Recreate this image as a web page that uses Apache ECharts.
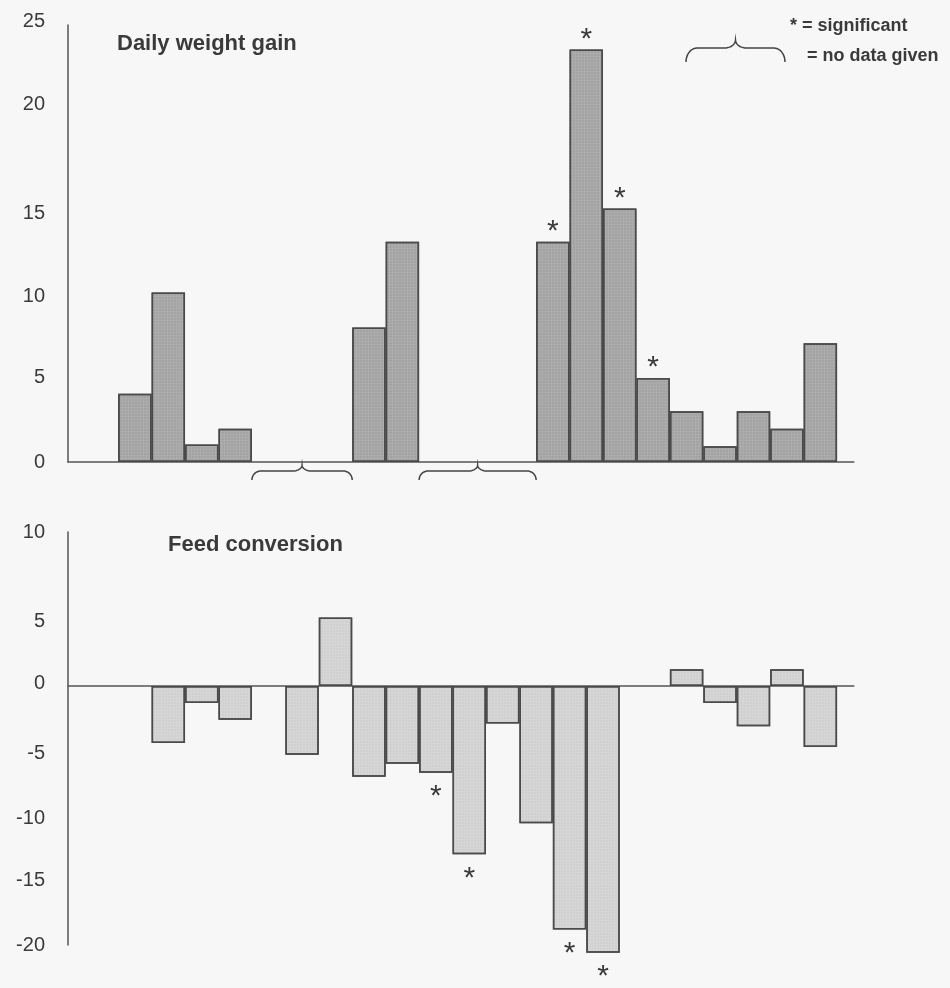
<!DOCTYPE html>
<html>
<head>
<meta charset="utf-8">
<script src="https://cdn.jsdelivr.net/npm/echarts@6/dist/echarts.min.js"></script>
<style>
  html, body { margin: 0; padding: 0; background: #f7f7f7; }
  #chart { width: 950px; height: 988px; }
</style>
</head>
<body>
<div id="chart"></div>
<script>
// Studies are placed on a shared x scale measured in half-column steps,
// so neighbouring bars sit two steps apart.
const gainSlots       = [4, 6, 8, 10, 18, 20, 29, 31, 33, 35, 37, 39, 41, 43, 45];
const gainValues      = [3.9, 9.7, 1.0, 1.9, 7.7, 12.6, 12.6, 23.6, 14.5, 4.8, 2.9, 0.9, 2.9, 1.9, 6.8];
const gainSignificant = [0, 0, 0, 0, 0, 0, 1, 1, 1, 1, 0, 0, 0, 0, 0];
const gainNoData      = [[11, 17], [21, 28]];

const feedSlots       = [6, 8, 10, 14, 16, 18, 20, 22, 24, 26, 28, 30, 32, 37, 39, 41, 43, 45];
const feedValues      = [-4.4, -1.3, -2.6, -5.3, 5.3, -7.0, -6.0, -6.7, -13.0, -2.9, -10.6, -18.8, -20.6, 1.3, -1.3, -3.1, 1.3, -4.7];
const feedSignificant = [0, 0, 0, 0, 0, 0, 0, 1, 1, 0, 0, 1, 1, 0, 0, 0, 0, 0];

const gainTitle = 'Daily weight gain';
const feedTitle = 'Feed conversion';
const legendSignificant = '* = significant';
const legendNoData = '= no data given';

const FONT = '"Liberation Sans", Arial, Helvetica, sans-serif';
const INK = '#3a3a3a';

// The printed tick numbers sit a little off their gridlines; nudge (px, + = down).
const gainLabelNudge = { 25: -4, 20: -8, 15: 14, 10: 9, 5: 3 };
const feedLabelNudge = { 10: -24, 0: -3, '-5': 3, '-10': 3 };

function nudgedLabels(nudge) {
  const rich = {};
  Object.keys(nudge).forEach(k => {
    const s = nudge[k];
    rich['n' + String(k).replace('-', 'm')] = {
      fontSize: 20, fontFamily: FONT, color: INK,
      padding: s > 0 ? [2 * s, 0, 0, 0] : [0, 0, -2 * s, 0]
    };
  });
  return {
    fontSize: 20, fontFamily: FONT, color: INK, margin: 23, rich,
    formatter: v => {
      if (v % 5 !== 0) return '';
      const key = String(v);
      return nudge[key] !== undefined ? '{n' + key.replace('-', 'm') + '|' + key + '}' : key;
    }
  };
}

function barData(slots, values, sig) {
  return slots.map((s, i) => ({
    value: [s, values[i]],
    label: {
      show: !!sig[i],
      formatter: '*',
      position: values[i] >= 0 ? 'top' : 'bottom',
      distance: values[i] >= 0 ? -5 : 9,
      fontSize: 30,
      fontFamily: FONT,
      color: INK
    }
  }));
}

// Fine halftone screen printed over the bar fills
const screenDots = {
  symbol: 'rect', symbolSize: 0.5,
  dashArrayX: [2, 1], dashArrayY: [2, 1],
  color: 'rgba(70, 70, 70, 0.28)'
};

// Points of a curly brace lying on its back: ends hook down, cusp points up.
function bracePoints(x1, x2, yTop, yMid, yEnd, r) {
  const xm = (x1 + x2) / 2;
  const pts = [];
  const n = 10;
  for (let i = 0; i <= n; i++) {
    const t = (Math.PI / 2) * i / n;
    pts.push([x1 + r * (1 - Math.cos(t)), yEnd - (yEnd - yMid) * Math.sin(t)]);
  }
  for (let i = 0; i <= n; i++) {
    const t = (Math.PI / 2) * i / n;
    pts.push([xm - r + r * Math.sin(t), yMid - (yMid - yTop) * (1 - Math.cos(t))]);
  }
  for (let i = n; i >= 0; i--) {
    const t = (Math.PI / 2) * i / n;
    pts.push([xm + r - r * Math.sin(t), yMid - (yMid - yTop) * (1 - Math.cos(t))]);
  }
  for (let i = n; i >= 0; i--) {
    const t = (Math.PI / 2) * i / n;
    pts.push([x2 - r * (1 - Math.cos(t)), yEnd - (yEnd - yMid) * Math.sin(t)]);
  }
  return pts;
}

const xAxisCommon = {
  type: 'value', min: 0, max: 47,
  axisLine: { show: true, onZero: true, lineStyle: { color: '#555', width: 1.5 } },
  axisTick: { show: false }, axisLabel: { show: false }, splitLine: { show: false }
};
const yAxisCommon = {
  type: 'value', interval: 5,
  axisLine: { show: true, lineStyle: { color: '#555', width: 1.5 } },
  axisTick: { show: false }, splitLine: { show: false }
};

const chart = echarts.init(document.getElementById('chart'), null, { renderer: 'canvas' });

chart.setOption({
  backgroundColor: '#f7f7f7',
  animation: false,
  title: [
    { text: gainTitle, left: 117, top: 33, padding: 0,
      textStyle: { fontSize: 22, fontWeight: 'bold', fontFamily: FONT, color: INK } },
    { text: feedTitle, left: 168, top: 534, padding: 0,
      textStyle: { fontSize: 22, fontWeight: 'bold', fontFamily: FONT, color: INK } }
  ],
  grid: [
    { left: 68, top: 25, width: 785.8, height: 437 },
    { left: 68, top: 532, width: 785.8, height: 413 }
  ],
  xAxis: [
    Object.assign({ gridIndex: 0 }, xAxisCommon),
    Object.assign({ gridIndex: 1 }, xAxisCommon)
  ],
  yAxis: [
    Object.assign({ gridIndex: 0, min: 0, max: 25, axisLabel: nudgedLabels(gainLabelNudge) }, yAxisCommon),
    Object.assign({ gridIndex: 1, min: -20, max: 11.9, axisLabel: nudgedLabels(feedLabelNudge) }, yAxisCommon)
  ],
  series: [
    {
      type: 'bar', xAxisIndex: 0, yAxisIndex: 0, barWidth: '100%', clip: false,
      itemStyle: { color: '#acacac', borderColor: '#4a4a4a', borderWidth: 1.5, decal: screenDots },
      data: barData(gainSlots, gainValues, gainSignificant)
    },
    {
      type: 'bar', xAxisIndex: 1, yAxisIndex: 1, barWidth: '100%', clip: false,
      itemStyle: { color: '#d6d6d6', borderColor: '#4a4a4a', borderWidth: 1.5,
                   decal: Object.assign({}, screenDots, { color: 'rgba(90, 90, 90, 0.18)' }) },
      data: barData(feedSlots, feedValues, feedSignificant)
    },
    {
      // "no data given" braces under the daily weight gain baseline
      type: 'custom', xAxisIndex: 0, yAxisIndex: 0, silent: true,
      data: gainNoData,
      encode: { x: [0, 1] },
      renderItem: (params, api) => {
        const p1 = api.coord([api.value(0), 0]);
        const p2 = api.coord([api.value(1), 0]);
        const yb = p1[1];
        return {
          type: 'polyline',
          shape: { points: bracePoints(p1[0], p2[0], yb + 3, yb + 9, yb + 18, 9) },
          style: { fill: null, stroke: '#444', lineWidth: 1.5 }
        };
      }
    }
  ],
  graphic: [
    { type: 'text', left: 790, top: 17, silent: true,
      style: { text: legendSignificant, fontSize: 18, fontWeight: 'bold', fontFamily: FONT, fill: INK } },
    { type: 'polyline', silent: true,
      shape: { points: bracePoints(686, 785, 40, 48, 62, 11) },
      style: { fill: null, stroke: '#444', lineWidth: 1.5 } },
    { type: 'text', left: 807, top: 47, silent: true,
      style: { text: legendNoData, fontSize: 18, fontWeight: 'bold', fontFamily: FONT, fill: INK } }
  ]
});
</script>
</body>
</html>
